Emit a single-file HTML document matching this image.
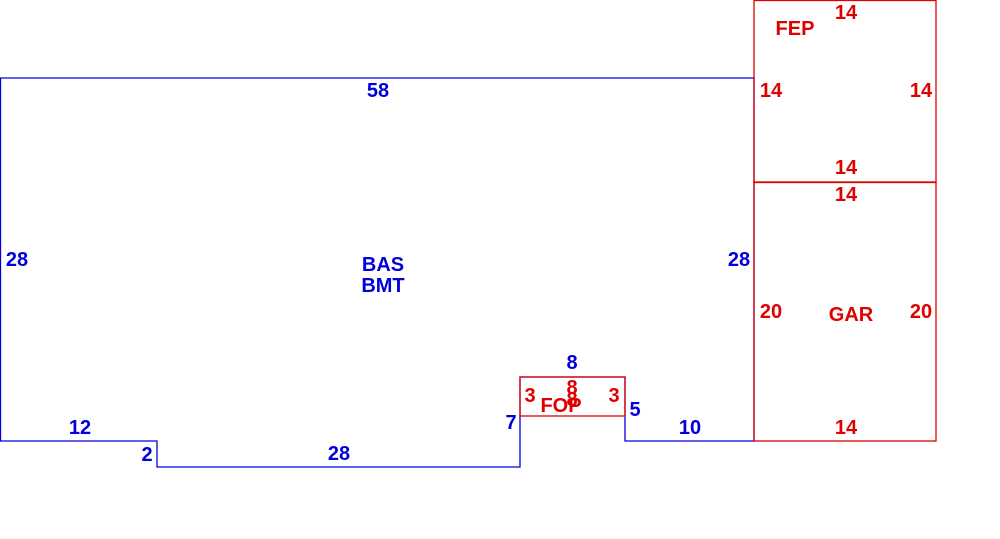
<!DOCTYPE html>
<html><head><style>
html,body{margin:0;padding:0;background:#fff;}
svg{display:block;}
text{font-family:"Liberation Sans",Arial,sans-serif;font-size:20px;font-weight:bold;dominant-baseline:central;text-anchor:middle;}
.b{fill:#0000dd;} .r{fill:#e00000;}
</style></head><body>
<svg width="1000" height="539" viewBox="0 0 1000 539" xmlns="http://www.w3.org/2000/svg">
<polyline fill="none" stroke="#0000dd" stroke-width="1.3" points="754,377 754,78 0.5,78 0.5,441 157,441 157,467 520,467 520,377 625,377 625,441 754,441 754,377"/>
<g fill="none" stroke="#e00000" stroke-width="1.3">
<rect x="754" y="0.5" width="182" height="182"/>
<rect x="754" y="182" width="182" height="259"/>
<rect x="520" y="377" width="105" height="39"/>
</g>
<text class="b" x="378" y="91">58</text>
<text class="b" x="17" y="260">28</text>
<text class="b" x="739" y="260">28</text>
<text class="b" x="383" y="265">BAS</text>
<text class="b" x="383" y="286">BMT</text>
<text class="b" x="80" y="428">12</text>
<text class="b" x="147" y="455">2</text>
<text class="b" x="339" y="454">28</text>
<text class="b" x="511" y="423">7</text>
<text class="b" x="572" y="363">8</text>
<text class="b" x="635" y="410">5</text>
<text class="b" x="690" y="428">10</text>
<text class="r" x="846" y="13">14</text>
<text class="r" x="795" y="29">FEP</text>
<text class="r" x="771" y="91">14</text>
<text class="r" x="921" y="91">14</text>
<text class="r" x="846" y="168">14</text>
<text class="r" x="846" y="195">14</text>
<text class="r" x="771" y="312">20</text>
<text class="r" x="921" y="312">20</text>
<text class="r" x="851" y="315">GAR</text>
<text class="r" x="846" y="428">14</text>
<text class="r" x="530" y="396">3</text>
<text class="r" x="614" y="396">3</text>
<text class="r" x="572" y="388">8</text>
<text class="r" x="572" y="400">8</text>
<text class="r" x="561" y="406">FOP</text>
</svg>
</body></html>
